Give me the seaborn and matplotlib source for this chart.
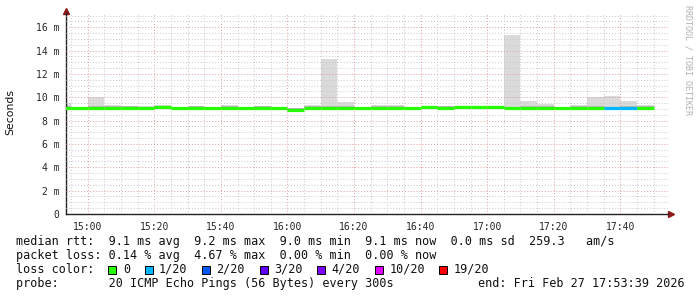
import matplotlib
matplotlib.use("Agg")
import matplotlib.pyplot as plt
import seaborn as sns
import numpy as np
from matplotlib.patches import Rectangle
from matplotlib.ticker import MultipleLocator, FixedLocator

# ---------------- data ----------------
interval_start = ["14:50", "14:55", "15:00", "15:05", "15:10", "15:15", "15:20", "15:25",
                  "15:30", "15:35", "15:40", "15:45", "15:50", "15:55", "16:00", "16:05",
                  "16:10", "16:15", "16:20", "16:25", "16:30", "16:35", "16:40", "16:45",
                  "16:50", "16:55", "17:00", "17:05", "17:10", "17:15", "17:20", "17:25",
                  "17:30", "17:35", "17:40", "17:45"]
median_ms = [9.10, 9.10, 9.10, 9.10, 9.10, 9.05, 9.15, 9.10,
             9.10, 9.10, 9.10, 9.10, 9.10, 9.10, 8.95, 9.10,
             9.10, 9.10, 9.10, 9.10, 9.10, 9.10, 9.15, 9.10,
             9.15, 9.15, 9.15, 9.05, 9.10, 9.10, 9.10, 9.10,
             9.10, 9.05, 9.10, 9.10]
smoke_lo_ms = [9.00, 9.00, 9.00, 9.00, 9.00, 8.95, 9.05, 9.00,
               8.95, 9.00, 9.00, 9.00, 8.90, 9.00, 8.85, 9.00,
               9.00, 9.00, 9.00, 9.00, 8.95, 9.00, 9.05, 9.00,
               9.00, 9.05, 9.05, 9.00, 9.00, 9.00, 9.00, 8.95,
               9.00, 8.95, 9.00, 8.95]
smoke_hi_ms = [9.50, 9.20, 10.00, 9.35, 9.25, 9.25, 9.35, 9.20,
               9.25, 9.20, 9.35, 9.20, 9.25, 9.20, 9.10, 9.30,
               13.30, 9.60, 9.20, 9.30, 9.30, 9.20, 9.20, 9.25,
               9.20, 9.20, 9.20, 15.35, 9.70, 9.45, 9.20, 9.35,
               10.05, 10.10, 9.65, 9.35]
loss_of_20 = [0, 0, 0, 0, 0, 0, 0, 0,
              0, 0, 0, 0, 0, 0, 0, 0,
              0, 0, 0, 0, 0, 0, 0, 0,
              0, 0, 0, 0, 0, 0, 0, 0,
              0, 1, 1, 0]

loss_labels = ["0", "1/20", "2/20", "3/20", "4/20", "10/20", "19/20"]
loss_values = [0, 1, 2, 3, 4, 10, 19]
loss_colors = ["#26ff00", "#00b8ff", "#0059ff", "#5e00ff", "#7e00ff", "#dd00ff", "#ff0000"]

x_tick_labels = ["15:00", "15:20", "15:40", "16:00", "16:20", "16:40", "17:00", "17:20", "17:40"]
y_tick_values = [0, 2, 4, 6, 8, 10, 12, 14, 16]

legend_lines = [
    "median rtt:  9.1 ms avg  9.2 ms max  9.0 ms min  9.1 ms now  0.0 ms sd  259.3   am/s",
    "packet loss: 0.14 % avg  4.67 % max  0.00 % min  0.00 % now",
    "loss color:",
    "probe:       20 ICMP Echo Pings (56 Bytes) every 300s",
]
end_text = "end: Fri Feb 27 17:53:39 2026"
watermark = "RRDTOOL / TOBI OETIKER"


def to_min(s):
    h, m = s.split(":")
    return int(h) * 60 + int(m)


starts = np.array([to_min(s) for s in interval_start], dtype=float)
step = 5.0

# ---------------- style ----------------
sns.set_style("white")
plt.rcParams["font.family"] = ["DejaVu Sans Mono", "DejaVu Sans"]

W, H = 697, 297
fig = plt.figure(figsize=(W / 100, H / 100), dpi=100)
ax_l, ax_r, ax_t, ax_b = 66, 668, 13, 214
ax = fig.add_axes([ax_l / W, (H - ax_b) / H, (ax_r - ax_l) / W, (ax_b - ax_t) / H])

# smoke
lo = np.array(smoke_lo_ms)
hi = np.array(smoke_hi_ms)
ax.bar(starts, hi - lo, bottom=lo, width=step, align="edge",
       color="#dadada", edgecolor="none", zorder=1)
med = np.array(median_ms)
inner_hi = np.minimum(hi, med + 0.12)
ax.bar(starts, inner_hi - lo, bottom=lo, width=step, align="edge",
       color="#b8b8b8", edgecolor="none", zorder=1.2)

# median line colored by loss
col_map = dict(zip(loss_values, loss_colors))
seg_colors = [col_map[l] for l in loss_of_20]
ax.hlines(med, starts, starts + step, colors=seg_colors, linewidth=2.3, zorder=3)

# axes ranges
x0 = 900 + (ax_l - 87.7) / 3.329
x1 = 900 + (ax_r - 87.7) / 3.329
ax.set_xlim(x0, x1)
ax.set_ylim(0, (ax_b - ax_t) / 11.67)

# grid
ax.xaxis.set_major_locator(FixedLocator([to_min(s) for s in x_tick_labels]))
ax.set_xticklabels(x_tick_labels)
ax.xaxis.set_minor_locator(MultipleLocator(5))
ax.yaxis.set_major_locator(FixedLocator(y_tick_values))
ax.set_yticklabels(["0" if v == 0 else f"{v} m" for v in y_tick_values])
ax.yaxis.set_minor_locator(MultipleLocator(0.5))
ax.set_axisbelow(False)
ax.grid(which="minor", color="#c8c8c8", linestyle=(0, (1, 2)), linewidth=0.7, zorder=2)
ax.grid(which="major", color="#e09a9a", linestyle=(0, (1, 2)), linewidth=0.7, zorder=2.1)

for sp in ["top", "right"]:
    ax.spines[sp].set_visible(False)
for sp in ["left", "bottom"]:
    ax.spines[sp].set_color("#222222")
    ax.spines[sp].set_linewidth(1.0)

ax.tick_params(axis="both", which="major", direction="inout", length=4, width=0.8,
               labelsize=7, color="#333333", pad=2.5)
ax.tick_params(axis="both", which="minor", direction="inout", length=2, width=0.6,
               color="#555555")
ax.tick_params(axis="x", which="major", pad=3.5)

# arrows
arrow_col = "#8b1a1a"
ax.plot([ax_l / W], [(H - 10.5) / H], marker="^", markersize=4.5, color=arrow_col,
        transform=fig.transFigure, clip_on=False)
ax.plot([(ax_r + 2.5) / W], [(H - ax_b) / H], marker=">", markersize=4.5, color=arrow_col,
        transform=fig.transFigure, clip_on=False)

# labels
fig.text(10.5 / W, 1 - 112 / H, "Seconds", rotation=90, ha="center", va="center",
         fontsize=7.8, family="DejaVu Sans", color="#111111")
fig.text(688 / W, 1 - 60 / H, watermark, rotation=270, ha="center", va="center",
         fontsize=6, color="#b0b0b0")

# legend text
cw = 7.1
fs = 8.5
baselines = [245.5, 259.3, 273.0, 286.8]
for txt, yb in zip(legend_lines, baselines):
    fig.text(16 / W, 1 - yb / H, txt, ha="left", va="baseline", fontsize=fs, color="#111111")
fig.text(478 / W, 1 - baselines[3] / H, end_text, ha="left", va="baseline",
         fontsize=fs, color="#111111")

col = 13.0
for lab, c in zip(loss_labels, loss_colors):
    sx = 16 + col * cw
    fig.add_artist(Rectangle((sx / W, (H - 273.5) / H), 8 / W, 8 / H,
                             transform=fig.transFigure, facecolor=c,
                             edgecolor="black", linewidth=0.7))
    fig.text((sx + 14.6) / W, 1 - baselines[2] / H, lab, ha="left", va="baseline",
             fontsize=fs, color="#111111")
    col += len(lab) + 4.1

fig.savefig("out.png", dpi=100)
